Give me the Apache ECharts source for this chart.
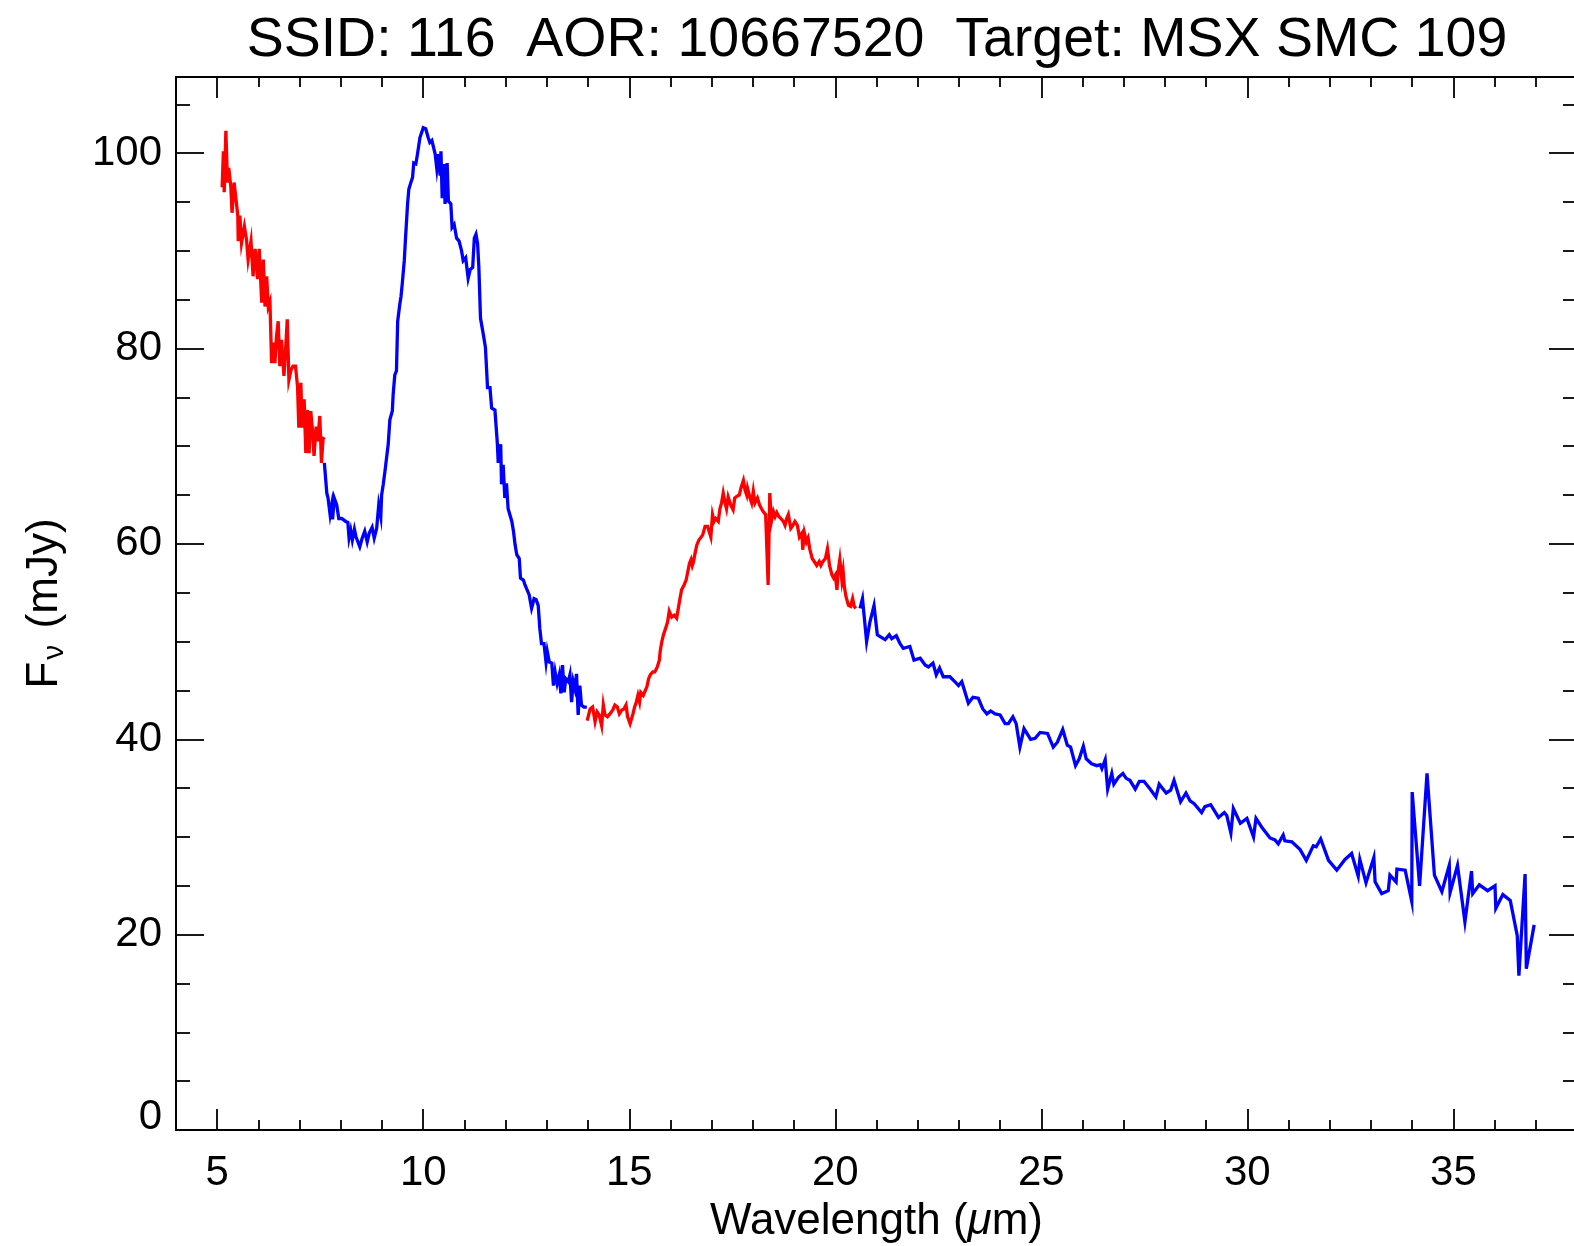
<!DOCTYPE html>
<html>
<head>
<meta charset="utf-8">
<title>SSID 116 spectrum</title>
<script src="https://cdn.jsdelivr.net/npm/echarts@6/dist/echarts.min.js"></script>
<style>
  html, body { margin: 0; padding: 0; background: #fff; }
  #chart { width: 1574px; height: 1246px; }
</style>
</head>
<body>
<div id="chart"></div>
<script>
// Spectral segments, [wavelength (um), flux density (mJy)]
const SL2 = [[5.12,96.5],[5.15,100.2],[5.17,96.0],[5.21,102.3],[5.25,97.0],[5.28,98.5],[5.33,96.6],[5.36,93.9],[5.41,97.0],[5.45,97.2],[5.50,93.6],[5.51,91.0],[5.55,93.6],[5.59,90.8],[5.66,92.5],[5.71,91.2],[5.75,89.1],[5.82,91.0],[5.87,87.4],[5.92,90.2],[5.98,87.1],[6.02,90.2],[6.08,84.7],[6.12,89.1],[6.16,84.3],[6.20,87.4],[6.24,84.3],[6.28,84.8],[6.32,78.5],[6.36,80.6],[6.40,78.5],[6.44,81.3],[6.48,82.8],[6.52,78.2],[6.56,80.9],[6.62,77.2],[6.66,79.9],[6.70,83.0],[6.74,76.8],[6.79,77.8],[6.84,78.2],[6.90,78.2],[6.95,76.1],[6.98,71.9],[7.03,76.5],[7.06,71.9],[7.11,74.8],[7.15,69.3],[7.19,73.7],[7.23,69.3],[7.27,73.6],[7.31,71.7],[7.35,69.0],[7.40,72.0],[7.44,70.5],[7.49,73.1],[7.53,68.3],[7.57,70.8],[7.61,70.7]];

const SL1 = [[7.60,68.3],[7.66,65.2],[7.69,64.7],[7.74,63.0],[7.78,64.0],[7.80,62.5],[7.84,64.7],[7.90,64.0],[7.95,62.6],[8.02,62.6],[8.06,62.8],[8.12,62.3],[8.17,62.2],[8.20,60.6],[8.24,61.4],[8.28,60.4],[8.33,61.5],[8.37,60.7],[8.41,60.6],[8.46,59.7],[8.52,60.6],[8.58,61.3],[8.64,60.2],[8.69,61.1],[8.73,61.3],[8.76,61.7],[8.81,60.6],[8.87,61.6],[8.92,64.0],[8.97,62.8],[8.99,65.0],[9.03,66.1],[9.07,67.4],[9.11,67.6],[9.15,70.2],[9.19,72.7],[9.25,73.6],[9.27,75.3],[9.31,77.3],[9.35,77.7],[9.38,82.8],[9.43,84.5],[9.46,85.3],[9.49,86.6],[9.54,89.0],[9.57,91.3],[9.62,94.8],[9.65,96.3],[9.70,97.0],[9.74,97.5],[9.77,99.0],[9.82,98.9],[9.86,99.9],[9.92,101.6],[9.96,102.1],[10.00,102.6],[10.06,102.5],[10.12,101.6],[10.16,101.1],[10.21,101.3],[10.25,100.6],[10.29,99.9],[10.33,98.4],[10.37,99.9],[10.41,97.7],[10.43,100.2],[10.46,95.4],[10.50,98.9],[10.53,94.8],[10.58,99.0],[10.61,95.1],[10.67,94.8],[10.70,92.4],[10.75,92.7],[10.81,91.3],[10.87,91.0],[10.93,90.0],[10.97,89.0],[11.03,89.3],[11.09,87.2],[11.14,88.1],[11.20,88.3],[11.24,91.3],[11.28,91.7],[11.32,90.7],[11.35,88.3],[11.39,83.1],[11.46,81.4],[11.51,80.1],[11.56,76.0],[11.62,76.0],[11.66,73.9],[11.74,73.7],[11.80,70.2],[11.82,68.3],[11.88,70.2],[11.90,66.1],[11.94,68.1],[11.98,64.7],[12.02,66.2],[12.06,63.6],[12.10,63.8],[12.15,62.3],[12.19,61.3],[12.23,59.9],[12.27,58.9],[12.33,58.5],[12.36,56.5],[12.43,56.3],[12.47,55.8],[12.51,55.4],[12.57,54.8],[12.63,53.4],[12.65,53.7],[12.69,54.4],[12.74,54.3],[12.79,53.7],[12.83,51.3],[12.87,49.8],[12.93,49.8],[12.98,47.9],[13.01,49.0],[13.06,47.9],[13.12,47.8],[13.16,45.5],[13.20,46.9],[13.25,45.7],[13.30,46.6],[13.34,44.7],[13.38,47.6],[13.42,44.8],[13.46,46.2],[13.52,45.9],[13.56,46.6],[13.60,43.8],[13.64,45.9],[13.68,45.2],[13.72,46.7],[13.76,42.5],[13.80,45.5],[13.84,43.5],[13.90,43.3],[13.97,43.3]];

const LL2 = [[13.98,41.9],[14.05,43.1],[14.11,43.3],[14.17,41.8],[14.22,42.8],[14.27,42.5],[14.33,41.4],[14.37,43.5],[14.41,42.5],[14.47,42.3],[14.53,42.6],[14.60,43.0],[14.65,43.5],[14.71,43.3],[14.76,42.6],[14.82,43.0],[14.87,43.1],[14.92,43.5],[14.96,42.3],[15.02,41.6],[15.09,42.6],[15.13,43.3],[15.17,43.8],[15.21,44.5],[15.25,43.8],[15.28,44.8],[15.34,44.5],[15.39,45.0],[15.43,45.4],[15.47,46.2],[15.51,46.6],[15.57,46.9],[15.62,46.9],[15.68,47.4],[15.73,48.1],[15.75,49.0],[15.79,50.0],[15.83,50.7],[15.87,51.2],[15.93,52.0],[15.97,53.1],[16.03,52.5],[16.09,52.7],[16.15,52.4],[16.19,53.4],[16.23,54.4],[16.27,55.3],[16.33,55.8],[16.38,56.3],[16.41,56.5],[16.46,58.0],[16.50,58.4],[16.53,57.8],[16.56,58.2],[16.59,58.9],[16.64,59.9],[16.69,60.4],[16.73,60.6],[16.78,60.9],[16.84,61.8],[16.90,61.8],[16.93,61.9],[16.98,60.7],[17.02,63.0],[17.06,62.3],[17.10,62.6],[17.16,62.3],[17.20,63.6],[17.24,64.2],[17.28,65.2],[17.32,64.3],[17.36,63.6],[17.40,64.8],[17.46,64.0],[17.52,63.5],[17.56,64.7],[17.62,64.9],[17.67,65.0],[17.71,65.7],[17.77,66.5],[17.81,65.5],[17.85,65.0],[17.87,65.7],[17.93,64.7],[17.97,64.2],[18.01,65.4],[18.05,64.2],[18.11,64.7],[18.16,64.0],[18.21,63.6],[18.25,63.3],[18.31,63.0],[18.37,55.8],[18.41,65.2],[18.45,62.3],[18.50,63.3],[18.54,62.8],[18.58,63.2],[18.63,62.8],[18.68,62.6],[18.74,62.3],[18.78,61.9],[18.82,62.6],[18.86,63.0],[18.92,61.6],[18.97,61.9],[19.02,62.3],[19.08,61.9],[19.13,60.7],[19.19,61.1],[19.21,59.4],[19.25,61.1],[19.30,60.2],[19.34,60.6],[19.38,59.5],[19.44,58.5],[19.49,58.2],[19.55,57.8],[19.61,58.2],[19.65,57.8],[19.70,58.2],[19.76,58.5],[19.81,59.5],[19.86,57.8],[19.92,56.8],[19.96,56.5],[20.00,56.8],[20.04,55.3],[20.07,57.2],[20.11,58.4],[20.16,56.3],[20.19,57.2],[20.22,55.6],[20.26,54.6],[20.32,53.7],[20.37,53.6],[20.42,54.4],[20.46,53.6],[20.50,53.4]];

const LL1 = [[20.60,53.4],[20.66,54.4],[20.76,50.0],[20.84,52.0],[20.94,53.7],[21.02,50.7],[21.09,50.5],[21.21,50.2],[21.31,50.7],[21.37,50.3],[21.48,50.6],[21.57,49.8],[21.65,49.3],[21.81,49.5],[21.91,48.1],[22.06,48.3],[22.18,47.6],[22.26,47.4],[22.37,47.8],[22.45,46.6],[22.53,47.3],[22.62,46.4],[22.78,46.4],[22.90,45.9],[22.99,45.5],[23.07,45.9],[23.23,43.7],[23.34,44.3],[23.47,44.2],[23.58,43.1],[23.68,42.6],[23.77,42.9],[23.88,42.6],[24.00,42.5],[24.12,41.6],[24.20,41.6],[24.31,42.3],[24.39,41.6],[24.48,39.2],[24.58,41.1],[24.74,40.0],[24.85,40.1],[24.97,40.7],[25.15,40.6],[25.29,39.2],[25.39,39.7],[25.52,41.0],[25.63,39.4],[25.71,39.2],[25.83,37.3],[25.92,38.0],[26.02,39.3],[26.09,38.0],[26.22,37.5],[26.35,37.3],[26.43,37.4],[26.47,37.0],[26.55,37.9],[26.61,34.9],[26.71,36.5],[26.76,35.4],[26.87,36.1],[26.98,36.5],[27.06,36.0],[27.15,35.8],[27.28,34.9],[27.38,35.7],[27.49,35.7],[27.64,34.9],[27.78,34.1],[27.86,35.4],[28.03,34.5],[28.14,34.8],[28.22,35.8],[28.38,33.6],[28.51,34.5],[28.61,33.7],[28.71,33.4],[28.89,32.5],[28.97,33.1],[29.11,33.3],[29.30,32.0],[29.44,32.5],[29.50,32.2],[29.60,30.4],[29.66,32.9],[29.83,31.4],[29.99,31.9],[30.15,30.0],[30.21,31.9],[30.35,31.0],[30.55,29.9],[30.67,29.7],[30.75,29.3],[30.87,30.2],[30.91,29.6],[31.08,29.5],[31.28,28.7],[31.43,27.6],[31.60,29.1],[31.67,29.0],[31.78,29.8],[31.97,27.6],[32.17,26.6],[32.37,27.7],[32.53,28.3],[32.69,26.0],[32.73,27.7],[32.88,25.3],[33.07,27.9],[33.10,25.4],[33.26,24.2],[33.42,24.5],[33.46,26.1],[33.61,25.4],[33.63,26.7],[33.83,26.6],[33.99,23.4],[34.00,34.6],[34.18,25.0],[34.36,36.5],[34.54,26.1],[34.72,24.4],[34.90,27.1],[34.92,24.3],[35.10,27.1],[35.28,21.3],[35.44,26.5],[35.47,24.2],[35.63,25.1],[35.83,24.5],[36.01,25.0],[36.03,22.7],[36.20,24.1],[36.38,23.5],[36.55,19.9],[36.59,15.8],[36.74,26.2],[36.77,16.5],[36.96,21.0]];

// Axis ranges and tick positions
const X_RANGE = [4, 38];
const Y_RANGE = [0, 107.8];
const X_MAJOR = [5, 10, 15, 20, 25, 30, 35];
const X_MINOR = [6, 7, 8, 9, 11, 12, 13, 14, 16, 17, 18, 19, 21, 22, 23, 24, 26, 27, 28, 29, 31, 32, 33, 34, 36, 37];
const Y_MAJOR = [0, 20, 40, 60, 80, 100];
const Y_MINOR = [5, 10, 15, 25, 30, 35, 45, 50, 55, 65, 70, 75, 85, 90, 95, 105];

const TITLE = 'SSID: 116  AOR: 10667520  Target: MSX SMC 109';
const FONT = '"Liberation Sans", Arial, Helvetica, sans-serif';
const RED = '#ff0000';
const BLUE = '#0000ff';

const axisLineStyle = { color: '#000', width: 2 };
const tickStyle = { color: '#000', width: 1.8 };

function xAxisDef(position, ticks, len, withLabels) {
  return {
    type: 'value', position: position, min: X_RANGE[0], max: X_RANGE[1],
    axisLine: { show: withLabels || position === 'top', onZero: false, lineStyle: axisLineStyle },
    axisTick: { show: true, inside: true, length: len, customValues: ticks, lineStyle: tickStyle },
    axisLabel: withLabels ? {
      show: true, customValues: ticks, margin: 22, color: '#000',
      fontSize: 42, fontFamily: FONT
    } : { show: false },
    splitLine: { show: false },
    name: withLabels ? '{n|Wavelength (}{i|μ}{n|m)}' : '',
    nameLocation: 'middle', nameGap: 70,
    nameTextStyle: {
      color: '#000', fontFamily: FONT, fontSize: 44,
      rich: {
        n: { fontSize: 44, fontFamily: FONT, color: '#000' },
        i: { fontSize: 44, fontFamily: FONT, color: '#000', fontStyle: 'italic' }
      }
    }
  };
}

function yAxisDef(position, ticks, len, withLabels) {
  return {
    type: 'value', position: position, min: Y_RANGE[0], max: Y_RANGE[1],
    axisLine: { show: withLabels, onZero: false, lineStyle: axisLineStyle },
    axisTick: { show: true, inside: true, length: len, customValues: ticks, lineStyle: tickStyle },
    axisLabel: withLabels ? {
      show: true, customValues: ticks, margin: 14, color: '#000',
      formatter: function (v) { return v === 0 ? '{z|0}' : '{d|' + v + '}'; },
      rich: {
        d: { fontSize: 42, fontFamily: FONT, color: '#000' },
        z: { fontSize: 42, fontFamily: FONT, color: '#000', padding: [0, 0, 26, 0] }
      }
    } : { show: false },
    splitLine: { show: false },
    name: withLabels ? '{n|F}{s|ν}{n| (mJy)}' : '',
    nameLocation: 'middle', nameGap: 106, nameRotate: 90,
    nameTextStyle: {
      color: '#000', fontFamily: FONT, fontSize: 44,
      rich: {
        n: { fontSize: 44, fontFamily: FONT, color: '#000', lineHeight: 50 },
        s: { fontSize: 30, fontFamily: FONT, color: '#000', lineHeight: 30, verticalAlign: 'bottom', padding: [0, 4, 0, 2] }
      }
    }
  };
}

function segment(data, color) {
  return {
    type: 'line', data: data, xAxisIndex: 0, yAxisIndex: 0,
    showSymbol: false, symbol: 'none', smooth: false, animation: false,
    lineStyle: { color: color, width: 3.3, join: 'miter' }
  };
}

const chart = echarts.init(document.getElementById('chart'), null, { renderer: 'canvas' });
chart.setOption({
  animation: false,
  backgroundColor: '#fff',
  title: {
    text: TITLE, left: 872, top: 8, textAlign: 'center',
    textStyle: { fontSize: 55.5, fontWeight: 'normal', color: '#000', fontFamily: FONT }
  },
  grid: {
    left: 176, top: 77, width: 1401, height: 1053,
    containLabel: false, outerBoundsMode: 'none'
  },
  xAxis: [
    xAxisDef('bottom', X_MAJOR, 21, true),
    xAxisDef('bottom', X_MINOR, 10, false),
    xAxisDef('top', X_MAJOR, 21, false),
    xAxisDef('top', X_MINOR, 10, false)
  ],
  yAxis: [
    yAxisDef('left', Y_MAJOR, 28, true),
    yAxisDef('left', Y_MINOR, 14, false),
    yAxisDef('right', Y_MAJOR, 28, false),
    yAxisDef('right', Y_MINOR, 14, false)
  ],
  series: [
    segment(SL2, RED),
    segment(SL1, BLUE),
    segment(LL2, RED),
    segment(LL1, BLUE)
  ]
});
</script>
</body>
</html>
